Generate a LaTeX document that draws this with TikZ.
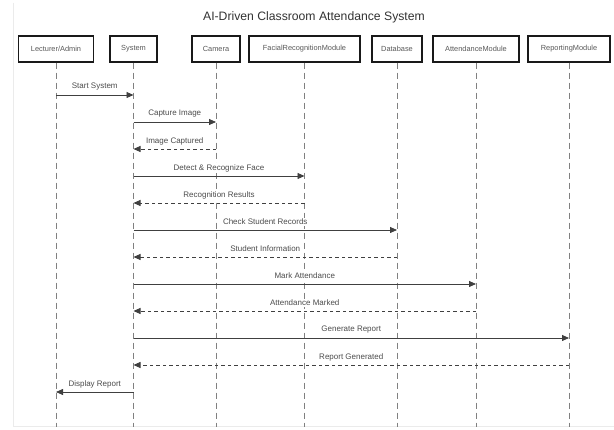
\documentclass[tikz,border=0pt]{standalone}
\usepackage{fontspec}
\setmainfont{Liberation Sans}
\usetikzlibrary{arrows.meta}
\begin{document}
\begin{tikzpicture}[x=1pt,y=-1pt,
  actor/.style={draw=black!90, line width=1.1pt, minimum height=26pt, inner sep=0pt,
                font=\fontsize{7.4}{8}\selectfont, text=black!65},
  life/.style={draw=black!50, line width=0.9pt, dash pattern=on 6pt off 4pt},
  call/.style={draw=black!75, line width=0.8pt, -{Triangle[length=7pt,width=6pt]}},
  reply/.style={call, dash pattern=on 3.5pt off 3pt},
  lbl/.style={font=\fontsize{8}{9}\selectfont, text=black!70, inner sep=0.8pt, fill=white},
  frame/.style={draw=black!8, line width=1pt}]
\useasboundingbox (0,0) rectangle (614,430);
\fill[white] (0,0) rectangle (614,430);
\draw[frame] (13,3) -- (13,427) -- (614,427);

\node[font=\fontsize{12.2}{14}\selectfont, text=black!80] (title) at (314,17) {AI-Driven Classroom Attendance System};

\node[actor, minimum width=75pt] (lec) at (56,49) {Lecturer/Admin};
\node[actor, minimum width=47pt] (sys) at (133.5,49) {System};
\node[actor, minimum width=48pt] (cam) at (216,49) {Camera};
\node[actor, minimum width=111pt] (frm) at (304.5,49) {FacialRecognitionModule};
\node[actor, minimum width=50pt] (db) at (397,49) {Database};
\node[actor, minimum width=86pt] (att) at (476,49) {AttendanceModule};
\node[actor, minimum width=82pt] (rep) at (569,49) {ReportingModule};

\foreach \n in {lec,sys,cam,frm,db,att,rep}{
  \coordinate (\n-end) at (\n.south |- 0,427);
  \draw[life] (\n.south) -- (\n-end);
}

\newcommand\msg[5]{% style, from, to, y, label
  \draw[#1] (#2 |- 0,#4) -- node[lbl, yshift=8pt] {#5} (#3 |- 0,#4);
}
\msg{call}{lec}{sys}{95}{Start System}
\msg{call}{sys}{cam}{122}{Capture Image}
\msg{reply}{cam}{sys}{149}{Image Captured}
\msg{call}{sys}{frm}{176}{Detect \& Recognize Face}
\msg{reply}{frm}{sys}{203}{Recognition Results}
\msg{call}{sys}{db}{230}{Check Student Records}
\msg{reply}{db}{sys}{257}{Student Information}
\msg{call}{sys}{att}{284}{Mark Attendance}
\msg{reply}{att}{sys}{311}{Attendance Marked}
\msg{call}{sys}{rep}{338}{Generate Report}
\msg{reply}{rep}{sys}{365}{Report Generated}
\msg{call}{sys}{lec}{392}{Display Report}
\end{tikzpicture}
\end{document}
